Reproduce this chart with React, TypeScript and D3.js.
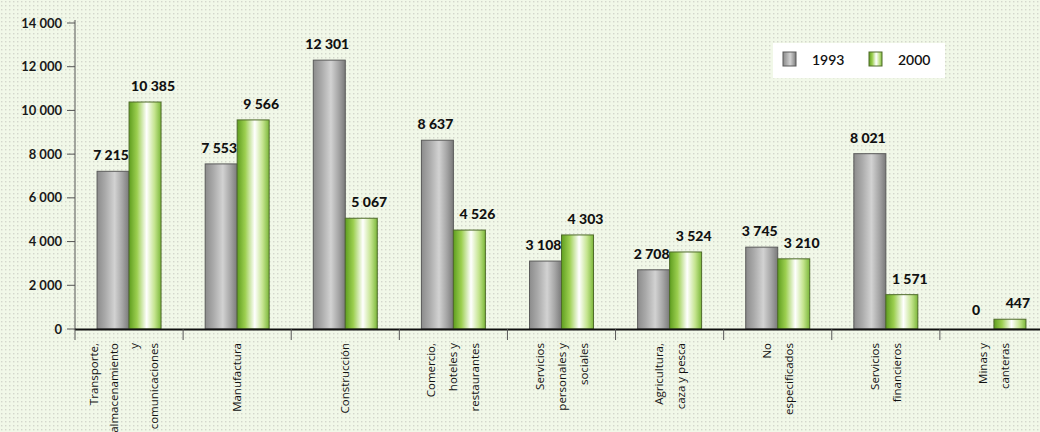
import React from "react";
import * as d3 from "d3";

const categories = [
  ["Transporte,", "almacenamiento", "y", "comunicaciones"],
  ["Manufactura"],
  ["Construcción"],
  ["Comercio,", "hoteles y", "restaurantes"],
  ["Servicios", "personales y", "sociales"],
  ["Agricultura,", "caza y pesca"],
  ["No", "especificados"],
  ["Servicios", "financieros"],
  ["Minas y", "canteras"],
];
const series = ["1993", "2000"];
const values1993 = [7215, 7553, 12301, 8637, 3108, 2708, 3745, 8021, 0];
const values2000 = [10385, 9566, 5067, 4526, 4303, 3524, 3210, 1571, 447];
const yTicks = [0, 2000, 4000, 6000, 8000, 10000, 12000, 14000];

const W = 1040;
const H = 432;
const fmt = (v: number) => {
  const s = String(v);
  return s.length > 3 ? s.slice(0, s.length - 3) + " " + s.slice(-3) : s;
};

export default function App() {
  const x0 = d3
    .scaleBand<number>()
    .domain(d3.range(categories.length))
    .range([75, 1048])
    .paddingInner(0)
    .paddingOuter(0);
  const bw = x0.bandwidth();
  const x1 = d3
    .scaleBand<string>()
    .domain(series)
    .range([0, bw])
    .paddingInner(0)
    .paddingOuter(0.69);
  const y = d3.scaleLinear().domain([0, 14000]).range([329, 23]);
  const data = [values1993, values2000];
  const fills = ["url(#gGray)", "url(#gGreen)"];
  const strokes = ["#5a5a5a", "#4f6b2a"];
  const labelFont = "'Lato', 'DejaVu Sans', sans-serif";

  return (
    <svg
      width={W}
      height={H}
      style={{ position: "absolute", left: 0, top: 0, display: "block" }}
    >
      <defs>
        <pattern id="dots" width="4" height="4" patternUnits="userSpaceOnUse">
          <rect width="4" height="4" fill="#f1f8e8" />
          <rect x="1" y="1" width="1.4" height="1.4" fill="#d3d7cc" />
        </pattern>
        <linearGradient id="gGray" x1="0" x2="1" y1="0" y2="0">
          <stop offset="0" stopColor="#8c8c8c" />
          <stop offset="0.25" stopColor="#a9a9a9" />
          <stop offset="0.55" stopColor="#d2d2d2" />
          <stop offset="0.8" stopColor="#a4a4a4" />
          <stop offset="1" stopColor="#7a7a7a" />
        </linearGradient>
        <linearGradient id="gGreen" x1="0" x2="1" y1="0" y2="0">
          <stop offset="0" stopColor="#5f9e1f" />
          <stop offset="0.25" stopColor="#9ccf50" />
          <stop offset="0.55" stopColor="#ffffff" />
          <stop offset="0.8" stopColor="#c4e48e" />
          <stop offset="1" stopColor="#7cb83a" />
        </linearGradient>
      </defs>
      <rect width={W} height={H} fill="url(#dots)" />

      {/* y axis */}
      <line x1={75} x2={75} y1={20} y2={330} stroke="#555" strokeWidth={1} />
      {yTicks.map((t) => (
        <g key={t}>
          <line x1={67} x2={75} y1={y(t)} y2={y(t)} stroke="#555" />
          <text
            x={62}
            y={y(t)}
            dy="0.35em"
            textAnchor="end"
            fontFamily={labelFont}
            fontWeight={700}
            fontSize={13}
            fill="#1a1a1a"
          >
            {fmt(t)}
          </text>
        </g>
      ))}

      {/* bars */}
      {categories.map((c, i) => (
        <g key={i} transform={`translate(${x0(i)},0)`}>
          {series.map((s, j) => {
            const v = data[j][i];
            const bx = x1(s)!;
            const top = y(v);
            return (
              <g key={s}>
                {v > 0 && (
                  <rect
                    x={bx}
                    y={top}
                    width={x1.bandwidth()}
                    height={y(0) - top}
                    fill={fills[j]}
                    stroke={strokes[j]}
                    strokeWidth={1}
                  />
                )}
                <text
                  x={bx + x1.bandwidth() / 2 + (j === 0 ? -2 : 8)}
                  y={top - (v === 0 ? 14 : 11)}
                  textAnchor="middle"
                  fontFamily={labelFont}
                  fontWeight={900}
                  fontSize={14}
                  fill="#111"
                >
                  {fmt(v)}
                </text>
              </g>
            );
          })}
        </g>
      ))}

      {/* x axis */}
      <line x1={75} x2={W} y1={329.5} y2={329.5} stroke="#111" strokeWidth={2} />
      {d3.range(categories.length + 1).map((i) => (
        <line
          key={i}
          x1={75 + i * bw}
          x2={75 + i * bw}
          y1={329}
          y2={340}
          stroke="#555"
        />
      ))}
      {categories.map((lines, i) => {
        const cx = x0(i)! + bw / 2;
        const n = lines.length;
        const sp = n > 3 ? 20 : 22;
        return (
          <g key={i}>
            {lines.map((ln, k) => {
              const lx = cx + (k - (n - 1) / 2) * sp + 4 - (n > 3 ? 5 : 0);
              return (
                <text
                  key={k}
                  transform={`translate(${lx},343) rotate(-90)`}
                  textAnchor="end"
                  fontFamily="'Open Sans', 'DejaVu Sans', sans-serif"
                  fontSize={11.5}
                  fill="#111"
                >
                  {ln}
                </text>
              );
            })}
          </g>
        );
      })}

      {/* legend */}
      <g>
        <rect x={773} y={43} width={172} height={35} fill="#ffffff" />
        {series.map((s, j) => (
          <g key={s} transform={`translate(${783 + j * 86},52)`}>
            <rect
              width={13}
              height={14}
              fill={fills[j]}
              stroke={strokes[j]}
            />
            <text
              x={29}
              y={8}
              dy="0.35em"
              fontFamily={labelFont}
              fontWeight={600}
              fontSize={14}
              fill="#111"
            >
              {s}
            </text>
          </g>
        ))}
      </g>
    </svg>
  );
}
